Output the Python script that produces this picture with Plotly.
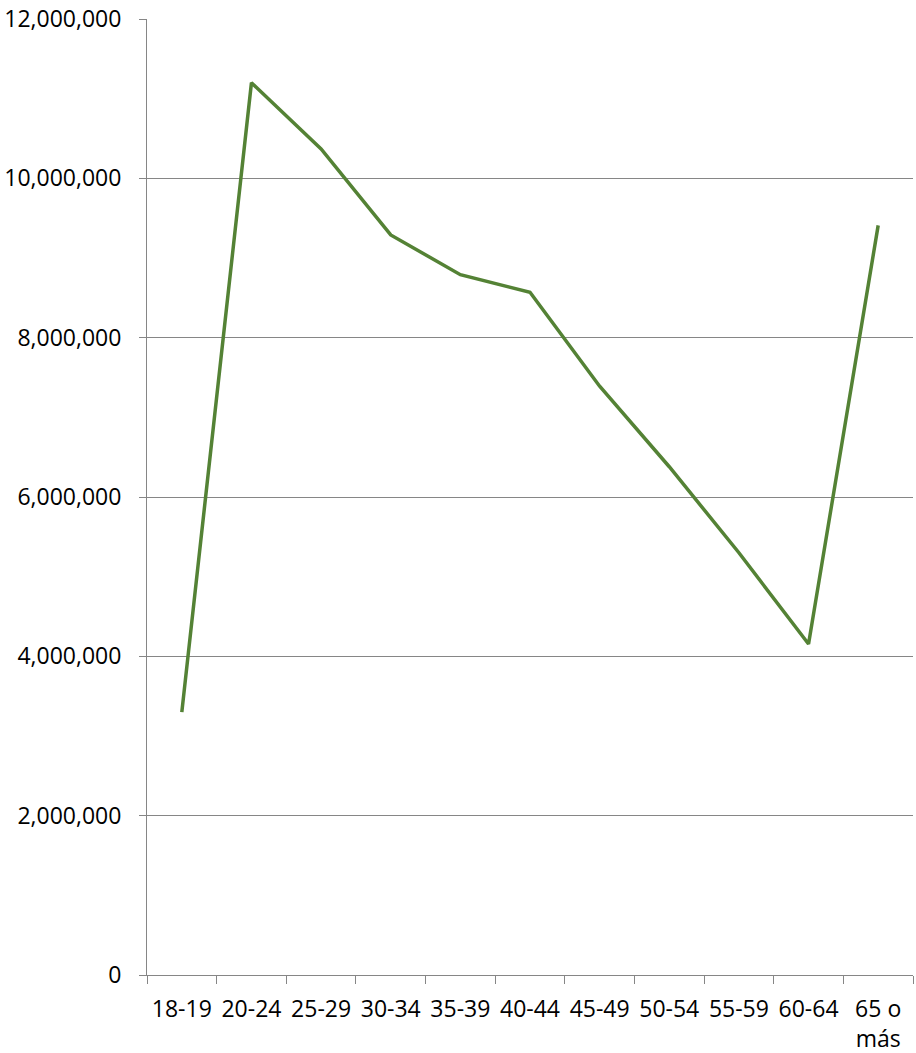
import plotly.graph_objects as go

# Population by age group
age_groups = ["18-19", "20-24", "25-29", "30-34", "35-39", "40-44",
              "45-49", "50-54", "55-59", "60-64", "65 o<br>más"]
population = [3300000, 11200000, 10370000, 9290000, 8790000, 8570000,
              7390000, 6380000, 5300000, 4155000, 9410000]

y_ticks = [0, 2000000, 4000000, 6000000, 8000000, 10000000, 12000000]

fig = go.Figure()
fig.add_trace(go.Scatter(
    x=age_groups, y=population, mode="lines",
    line=dict(color="#548235", width=3.5),
    hoverinfo="x+y",
))

axis_gray = "#868686"
label_font = dict(family="Open Sans, Liberation Sans, sans-serif", size=23, color="#000000")
fig.update_layout(
    width=916, height=1053,
    margin=dict(l=147, r=3, t=19, b=78),
    plot_bgcolor="white", paper_bgcolor="white",
    showlegend=False,
    font=label_font,
    xaxis=dict(
        type="category",
        tickson="boundaries",
        ticks="outside", ticklen=8, tickcolor=axis_gray,
        showline=True, linecolor=axis_gray, linewidth=1,
        showgrid=False, zeroline=False,
        tickfont=label_font,
        ticklabelstandoff=13,
        automargin=False,
        range=[-0.5, len(age_groups) - 0.5],
    ),
    yaxis=dict(
        range=[0, 12000000],
        tickvals=y_ticks,
        ticktext=[f"{v:,}" for v in y_ticks],
        ticks="outside", ticklen=7, tickcolor=axis_gray,
        showline=True, linecolor=axis_gray, linewidth=1,
        showgrid=True, gridcolor=axis_gray, gridwidth=1,
        zeroline=False,
        tickfont=label_font,
        ticklabelstandoff=13,
        automargin=False,
    ),
)

fig.write_html("out.html")
